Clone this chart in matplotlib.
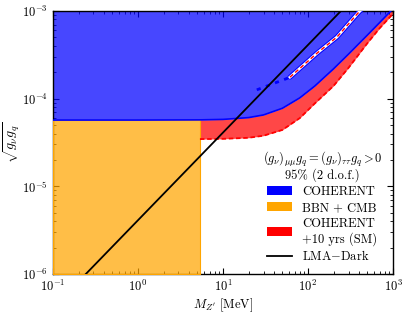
import matplotlib
matplotlib.use("Agg")
import matplotlib.pyplot as plt
from matplotlib.patches import Patch
from matplotlib.lines import Line2D

plt.rcParams['font.family'] = 'serif'
plt.rcParams['font.serif'] = ['cmr10']
plt.rcParams['mathtext.fontset'] = 'cm'
plt.rcParams['axes.formatter.use_mathtext'] = True
plt.rcParams['font.size'] = 9

# COHERENT excluded region lower boundary
coh_mass = [0.1, 1, 5.36, 10, 20, 30, 50, 80, 120, 200, 300, 500, 700, 1000]
coh_g = [5.7e-5, 5.7e-5, 5.73e-5, 5.80e-5, 6.08e-5, 6.52e-5, 7.77e-5, 1.02e-4,
         1.39e-4, 2.19e-4, 3.22e-4, 5.31e-4, 7.41e-4, 1.06e-3]

# COHERENT + 10 yrs (SM) lower boundary
fut_mass = [5.36, 10, 20, 30, 50, 80, 120, 200, 300, 500, 700, 1000]
fut_g = [3.46e-5, 3.48e-5, 3.58e-5, 3.78e-5, 4.4e-5, 6.0e-5,
         8.8e-5, 1.4e-4, 2.25e-4, 4.3e-4, 6.4e-4, 9.3e-4]
fut_upper = [5.73e-5, 5.80e-5, 6.08e-5, 6.52e-5, 7.77e-5, 1.02e-4,
             1.39e-4, 2.19e-4, 3.22e-4, 5.31e-4, 7.41e-4, 1.06e-3]

# Thin allowed island inside COHERENT region
isl_mass = [61.4, 128, 219, 387, 440]
isl_g = [1.76e-4, 3.31e-4, 5.04e-4, 9.46e-4, 1.07e-3]
dots_mass = [25, 32, 40, 50, 60]
dots_g = [1.26e-4, 1.38e-4, 1.50e-4, 1.62e-4, 1.74e-4]

# BBN + CMB excluded box
bbn_mass = [0.1, 5.36]
bbn_g = [5.7e-5, 5.7e-5]

# LMA-Dark line
lma_mass = [0.1, 1000]
lma_g = [4.1e-7, 4.1e-3]

xlim = (0.1, 1000)
ylim = (1e-6, 1e-3)

fig = plt.figure(figsize=(4.07, 3.13), dpi=100)
ax = fig.add_axes([0.130, 0.1246, 0.8356, 0.8403])
ax.set_xscale('log')
ax.set_yscale('log')
ax.set_xlim(*xlim)
ax.set_ylim(*ylim)

a = 0.72
ax.fill_between(fut_mass, fut_g, fut_upper, color='red', alpha=a, lw=0, zorder=1)
ax.fill_between(coh_mass, coh_g, ylim[1] * 10, color='blue', alpha=a, lw=0, zorder=2)
ax.fill_between(bbn_mass, ylim[0], bbn_g, facecolor=(1, 0.647, 0, a),
                edgecolor='orange', lw=0.8, zorder=3)
ax.plot(fut_mass, fut_g, color='red', ls=(0, (2.5, 1.5)), lw=1.3, zorder=4)
ax.plot(coh_mass, coh_g, color='blue', lw=1.2, zorder=5)

# island
ax.plot(isl_mass, isl_g, color='blue', lw=3.5, zorder=5, solid_capstyle='round')
ax.plot(isl_mass, isl_g, color='white', lw=2.0, zorder=5)
ax.plot(isl_mass, isl_g, color='red', lw=1.0, ls=(0, (3, 2)), zorder=5)
ax.plot(dots_mass, dots_g, color='blue', lw=2.0, ls=(0, (1.5, 2)), zorder=5)

ax.plot(lma_mass, lma_g, color='black', lw=1.3, zorder=6)

ax.tick_params(which='both', direction='in', top=True, right=True)
ax.tick_params(which='major', length=4, width=0.8, labelsize=9)
ax.tick_params(which='minor', length=2, width=0.6)
for s in ax.spines.values():
    s.set_linewidth(1.0)

ax.set_xlabel(r"$M_{Z'}$ [MeV]", fontsize=9, labelpad=2)
ax.set_ylabel(r"$\sqrt{g_\nu g_q}$", fontsize=10)
ax.yaxis.set_label_coords(-0.091, 0.5)

handles = [Patch(facecolor='blue', edgecolor='none'),
           Patch(facecolor='orange', edgecolor='none'),
           Patch(facecolor='red', edgecolor='none'),
           Line2D([], [], color='black', lw=1.3)]
labels = ['COHERENT', 'BBN + CMB', 'COHERENT\n+10 yrs (SM)', r'LMA$-$Dark']
leg = ax.legend(handles, labels, loc='lower right', frameon=False, fontsize=9,
                title=r"$(g_\nu)_{\mu\mu}g_q = (g_\nu)_{\tau\tau}g_q > 0$" + "\n95% (2 d.o.f.)",
                title_fontsize=9, handlelength=2.0, handleheight=0.7,
                borderaxespad=0.45, labelspacing=0.3, handletextpad=0.8)
leg.get_title().set_multialignment('center')
leg.get_title().set_linespacing(0.95)
leg.set_zorder(10)

fig.savefig('out.png', dpi=100)
